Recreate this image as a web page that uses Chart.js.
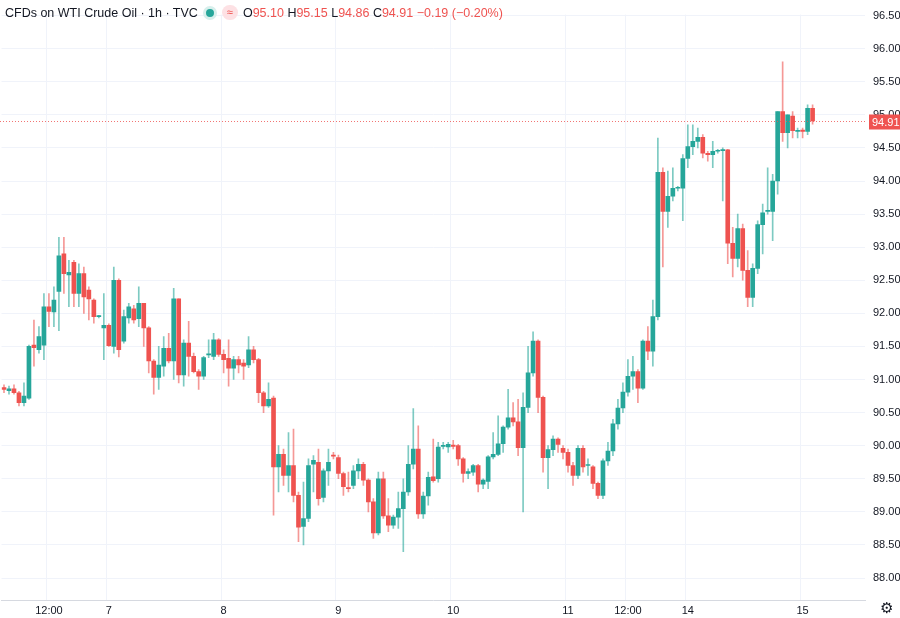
<!DOCTYPE html>
<html><head><meta charset="utf-8">
<script src="https://cdn.jsdelivr.net/npm/chart.js@4.4.0/dist/chart.umd.min.js"></script>
<style>
html,body{margin:0;padding:0;background:#fff;font-family:"Liberation Sans",Arial,sans-serif;}
#wrap{position:relative;width:900px;height:618px;}
#hdr{position:absolute;left:5px;top:5px;font-size:12.5px;color:#131722;white-space:nowrap;display:flex;align-items:center;gap:5px;}
.dot{display:inline-block;width:8px;height:8px;border-radius:50%;background:#26a69a;border:3px solid #d7efec;}
.bad{display:inline-block;background:#fde1e4;color:#ef5350;border-radius:8px;padding:0 5px;font-size:11px;line-height:15px;}
.r{color:#ef5350}
#gear{position:absolute;right:7px;bottom:1px;font-size:15px;color:#131722;}
</style></head><body>
<div id="wrap">
<canvas id="c" width="900" height="618"></canvas>
<div id="hdr"><span>CFDs on WTI Crude Oil · 1h · TVC</span><span class="dot"></span><span class="bad">≈</span>
<span>O<span class="r">95.10</span> H<span class="r">95.15</span> L<span class="r">94.86</span> C<span class="r">94.91</span> <span class="r">−0.19 (−0.20%)</span></span></div>
<div id="gear">⚙</div>
</div>
<script>
const opens=[90.88,90.83,90.86,90.80,90.65,90.72,91.52,91.45,91.52,92.10,92.02,92.33,92.90,92.58,92.77,92.30,92.60,92.35,92.20,91.95,91.78,91.82,91.50,92.50,91.58,91.93,92.07,91.92,92.15,91.78,91.28,91.03,91.20,91.47,91.28,92.22,91.07,91.55,91.35,91.12,91.05,91.37,91.35,91.60,91.38,91.32,91.17,91.30,91.25,91.22,91.45,91.30,90.80,90.60,90.72,89.68,89.87,89.55,89.70,89.25,88.78,88.90,89.72,89.75,89.22,89.62,89.86,89.82,89.58,89.36,89.40,89.62,89.72,89.48,89.15,88.68,89.50,88.94,88.80,88.92,89.05,89.30,89.72,89.95,88.97,89.24,89.53,89.50,89.99,89.98,90.01,90.00,89.80,89.58,89.60,89.70,89.42,89.46,89.83,89.87,90.03,90.28,90.42,90.36,89.97,90.58,91.10,91.58,90.73,89.82,89.94,90.10,89.96,89.90,89.70,89.55,89.96,89.70,89.68,89.43,89.25,89.77,89.92,90.33,90.57,90.81,91.05,91.12,90.87,91.58,91.43,91.95,94.13,93.54,93.77,93.89,93.89,94.34,94.52,94.60,94.66,94.42,94.40,94.45,94.46,94.47,93.06,92.83,93.28,92.65,92.24,92.68,93.34,93.54,93.54,94.00,95.05,94.73,94.98,94.75,94.77,94.75,95.10];
const highs=[90.92,90.90,90.92,90.82,90.95,91.52,91.90,91.80,92.30,92.30,92.40,93.15,93.15,92.80,92.80,92.75,92.70,92.40,92.22,91.97,92.30,91.84,92.70,92.52,92.05,92.15,92.12,92.40,92.15,91.80,91.30,91.50,91.65,91.70,92.38,92.22,91.60,91.88,91.40,91.15,91.35,91.60,91.70,91.62,91.45,91.60,91.35,91.35,91.30,91.65,91.50,91.32,90.82,90.95,90.75,90.00,89.95,90.20,90.25,89.30,89.45,89.80,89.85,89.95,89.65,89.95,89.90,89.86,89.60,89.60,89.70,89.80,89.75,89.50,89.20,89.60,89.60,89.20,88.95,89.30,89.50,90.00,90.56,90.30,89.30,89.60,90.10,90.05,90.05,90.05,90.08,90.02,89.82,89.65,89.72,89.72,89.50,89.85,90.20,90.45,90.30,90.85,90.65,90.70,90.80,91.50,91.72,91.60,90.75,90.00,90.15,90.12,90.00,89.95,89.75,90.00,90.00,89.80,89.70,89.45,89.80,90.05,90.40,90.70,90.95,91.30,91.35,91.15,91.60,91.80,92.20,94.65,94.20,94.15,94.20,93.92,94.40,94.85,94.85,94.80,94.70,94.45,94.60,94.48,94.50,94.48,93.30,93.50,93.35,92.95,92.75,93.40,93.65,94.20,94.10,95.05,95.80,95.00,95.05,94.80,94.80,95.15,95.15];
const lows=[90.80,90.78,90.78,90.60,90.60,90.70,91.20,91.40,91.30,91.80,91.80,91.74,92.30,92.10,92.10,92.10,92.00,91.90,91.85,91.93,91.30,91.50,91.40,91.34,91.55,91.85,91.85,91.80,91.50,91.10,90.78,90.85,91.05,91.25,91.00,90.95,90.90,91.05,91.10,90.85,91.00,91.33,91.30,91.35,91.10,90.90,91.00,91.10,91.00,91.18,91.25,90.65,90.50,90.58,88.95,89.30,89.40,89.30,89.15,88.55,88.50,88.85,89.30,89.10,89.15,89.40,89.80,89.50,89.25,89.30,89.35,89.50,89.40,89.00,88.60,88.65,88.90,88.70,88.75,88.75,88.40,89.25,89.65,88.90,88.90,89.10,89.45,89.45,89.95,89.90,89.95,89.70,89.45,89.50,89.55,89.30,89.35,89.35,89.80,89.85,89.90,90.25,90.30,89.85,89.00,90.50,91.05,90.50,89.60,89.35,89.85,89.90,89.80,89.60,89.40,89.50,89.60,89.55,89.35,89.20,89.20,89.70,89.85,90.25,90.50,90.75,90.85,90.65,90.85,91.30,91.20,91.90,92.70,93.30,93.70,93.85,93.40,94.20,94.40,94.50,94.35,94.30,94.20,94.42,93.70,92.75,92.55,92.70,92.50,92.10,92.10,92.60,92.90,93.50,93.10,93.80,94.60,94.50,94.65,94.65,94.65,94.70,94.86];
const closes=[90.85,90.86,90.80,90.65,90.75,91.50,91.48,91.65,92.10,92.03,92.20,92.87,92.60,92.62,92.30,92.60,92.25,92.22,91.95,91.95,91.82,91.51,92.50,91.45,91.95,92.10,91.90,92.15,91.78,91.28,91.03,91.22,91.47,91.28,92.22,91.07,91.55,91.35,91.12,91.05,91.33,91.39,91.60,91.38,91.30,91.17,91.30,91.22,91.20,91.45,91.30,90.80,90.60,90.70,89.68,89.87,89.55,89.70,89.25,88.77,88.90,89.70,89.78,89.20,89.62,89.75,89.84,89.58,89.38,89.35,89.62,89.72,89.48,89.15,88.68,89.50,88.94,88.80,88.92,89.05,89.30,89.72,89.95,88.97,89.24,89.52,89.47,89.98,90.00,90.02,89.99,89.80,89.58,89.61,89.70,89.42,89.48,89.83,89.87,90.03,90.28,90.42,90.36,89.97,90.58,91.10,91.58,90.73,89.82,89.94,90.10,90.02,89.90,89.70,89.55,89.96,89.68,89.71,89.43,89.25,89.77,89.92,90.33,90.57,90.81,91.05,91.12,90.87,91.58,91.43,91.95,94.13,93.54,93.77,93.89,93.90,94.34,94.52,94.60,94.66,94.42,94.40,94.45,94.46,94.47,93.06,92.83,93.28,92.65,92.24,92.68,93.34,93.52,93.55,94.00,95.05,94.73,95.00,94.76,94.76,94.75,95.10,94.91];
const tickIndex=[9,21,44,67,90,113,125,137,160];
const tickText=["12:00","7","8","9","10","11","12:00","14","15"];
const lastPrice=94.91;
const slots=173;

const GREEN='#26a69a', RED='#ef5350';
const labels=[];
for(let i=0;i<slots;i++){const k=tickIndex.indexOf(i);labels.push(k>=0?tickText[k]:'');}
const up=opens.map((o,i)=>closes[i]>=o);
const bodyCol=up.map(u=>u?GREEN:RED);
const wickCol=up.map(u=>u?'rgba(38,166,154,0.6)':'rgba(239,83,80,0.6)');

const priceLine={id:'pl',afterDatasetsDraw(ch){
  const {ctx,chartArea:a,scales:{y}}=ch;const py=Math.round(y.getPixelForValue(lastPrice))+0.5;
  ctx.save();ctx.strokeStyle='rgba(239,83,80,0.8)';ctx.setLineDash([1,2]);ctx.lineWidth=1;
  ctx.beginPath();ctx.moveTo(0,py);ctx.lineTo(a.right,py);ctx.stroke();ctx.setLineDash([]);
  ctx.fillStyle=RED;ctx.fillRect(a.right+4,py-7,31,15);
  ctx.fillStyle='#fff';ctx.font='11px "Liberation Sans",Arial';ctx.textBaseline='middle';ctx.fillText(lastPrice.toFixed(2),a.right+7,py+1);
  ctx.restore();}};

new Chart(document.getElementById('c'),{
  type:'bar',
  data:{labels,datasets:[
    {data:lows.map((l,i)=>[l,highs[i]]),backgroundColor:wickCol,barThickness:1,grouped:false,minBarLength:1},
    {data:opens.map((o,i)=>[o,closes[i]]),backgroundColor:bodyCol,barThickness:4,grouped:false,minBarLength:1}
  ]},
  options:{responsive:false,animation:false,events:[],
    layout:{padding:0},
    plugins:{legend:{display:false},tooltip:{enabled:false}},
    scales:{
      x:{offset:true,afterFit(s){s.height=18;},
        grid:{color:c=>c.tick&&c.tick.label?'#f0f3fa':'rgba(0,0,0,0)',drawTicks:false},
        border:{color:'#d6d9e0'},
        ticks:{autoSkip:false,maxRotation:0,padding:4,color:'#131722',font:{size:11,family:'"Liberation Sans",Arial'}}},
      y:{position:'right',min:87.668,max:96.515,afterFit(s){s.width=35;},
        afterBuildTicks(s){const t=[];for(let v=88;v<=96.5+1e-9;v+=0.5)t.push({value:Math.round(v*100)/100});s.ticks=t;},
        grid:{color:'#f0f3fa',drawTicks:false},border:{display:false},
        ticks:{padding:8,color:'#131722',font:{size:11,family:'"Liberation Sans",Arial'},callback:v=>v.toFixed(2)}}
    }},
  plugins:[priceLine]
});
</script></body></html>
